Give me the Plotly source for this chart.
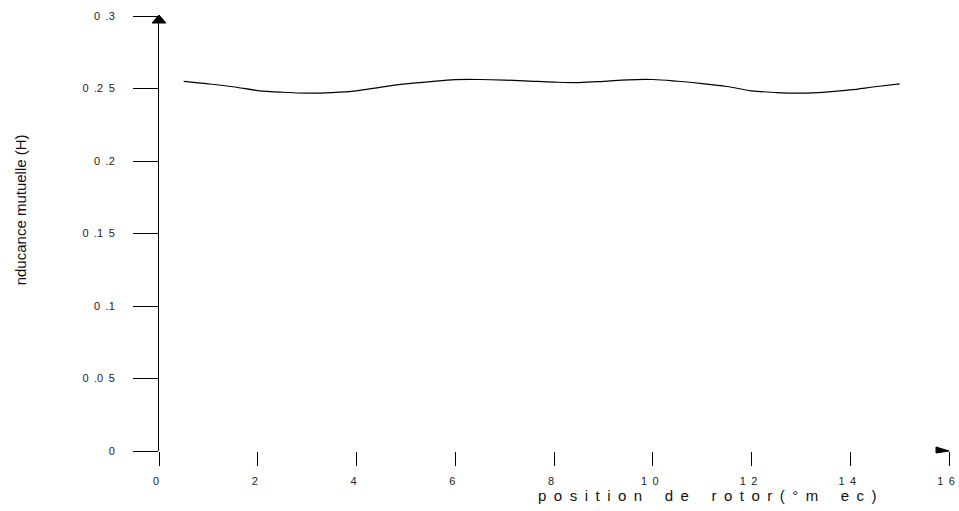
import plotly.graph_objects as go

# Data
position = [0.5, 1.0, 1.5, 2.0, 2.5, 3.0, 3.5, 4.0, 4.5, 5.0, 5.5, 6.0, 6.5, 7.0, 7.5,
            8.0, 8.5, 9.0, 9.5, 10.0, 10.5, 11.0, 11.5, 12.0, 12.5, 13.0, 13.5, 14.0, 14.5, 15.0]
inductance = [0.2549, 0.2532, 0.2512, 0.2486, 0.2474, 0.2468, 0.2472, 0.2484, 0.2510, 0.2532,
              0.2548, 0.2561, 0.2562, 0.2558, 0.2551, 0.2544, 0.2541, 0.2549, 0.2560, 0.2562,
              0.2550, 0.2534, 0.2514, 0.2484, 0.2472, 0.2468, 0.2475, 0.2490, 0.2512, 0.2532]

S = "\u2002"
x_tickvals = [0, 2, 4, 6, 8, 10, 12, 14, 16]
x_ticktext = ["0", "2", "4", "6", "8", "1" + S + "0", "1" + S + "2", "1" + S + "4", "1" + S + "6"]
y_tickvals = [0, 0.05, 0.1, 0.15, 0.2, 0.25, 0.3]
y_ticktext = ["0", "0" + S + ".0" + S + "5", "0" + S + ".1", "0" + S + ".1" + S + "5",
              "0" + S + ".2", "0" + S + ".2" + S + "5", "0" + S + ".3"]

x_title = "p o s i t i o n   d e   r o t o r ( ° m   e c )".replace(" ", S)
y_title = "nducance mutuelle (H)"

FONT = "Liberation Sans, Arial, sans-serif"

fig = go.Figure()
fig.add_trace(go.Scatter(x=position, y=inductance, mode="lines",
                         line=dict(color="black", width=1.2, shape="spline"),
                         showlegend=False, hoverinfo="skip"))

fig.update_layout(
    width=959, height=511,
    margin=dict(l=159, r=10, t=16, b=60),
    paper_bgcolor="white", plot_bgcolor="white",
    font=dict(family=FONT, color="#222", size=11),
    xaxis=dict(range=[0, 16], tickvals=x_tickvals, ticktext=x_ticktext, automargin=False,
               showgrid=False, zeroline=False, showline=False,
               ticks="outside", ticklen=14, tickwidth=1, tickcolor="black",
               ticklabelstandoff=6, ticklabelshift=-3, ticklabeloverflow="allow",
               tickfont=dict(size=11, family=FONT, color="#222")),
    yaxis=dict(range=[0, 0.3], tickvals=y_tickvals, ticktext=y_ticktext, automargin=False,
               showgrid=False, zeroline=False, showline=True, linecolor="black", linewidth=1,
               ticks="outside", ticklen=25, tickwidth=1, tickcolor="black",
               ticklabelstandoff=16, tickfont=dict(size=11, family=FONT, color="#222")),
    annotations=[
        dict(text=x_title, xref="paper", yref="paper", x=0.694, y=-0.103,
             xanchor="center", yanchor="middle", showarrow=False,
             font=dict(size=15, family=FONT, color="#111")),
        dict(text=y_title, xref="paper", yref="paper", x=-0.175, y=0.555,
             xanchor="center", yanchor="middle", showarrow=False, textangle=-90,
             font=dict(size=15, family=FONT, color="#111")),
    ],
    shapes=[
        # arrow head at top of y axis
        dict(type="path", xref="paper", yref="paper", xsizemode="pixel", ysizemode="pixel",
             xanchor=0, yanchor=1, path="M0,1 L-7,-7 L7,-7 Z",
             fillcolor="black", line=dict(color="black", width=1)),
        # flag at end of x axis
        dict(type="path", xref="paper", yref="paper", xsizemode="pixel", ysizemode="pixel",
             xanchor=1, yanchor=0, path="M-13,4 L0,0 L-13,-2 Z",
             fillcolor="black", line=dict(color="black", width=1)),
    ],
)

fig.write_html(
    "out.html",
    config={"displayModeBar": False},
    post_script="document.body.style.margin='0';document.body.style.overflow='hidden';",
)
